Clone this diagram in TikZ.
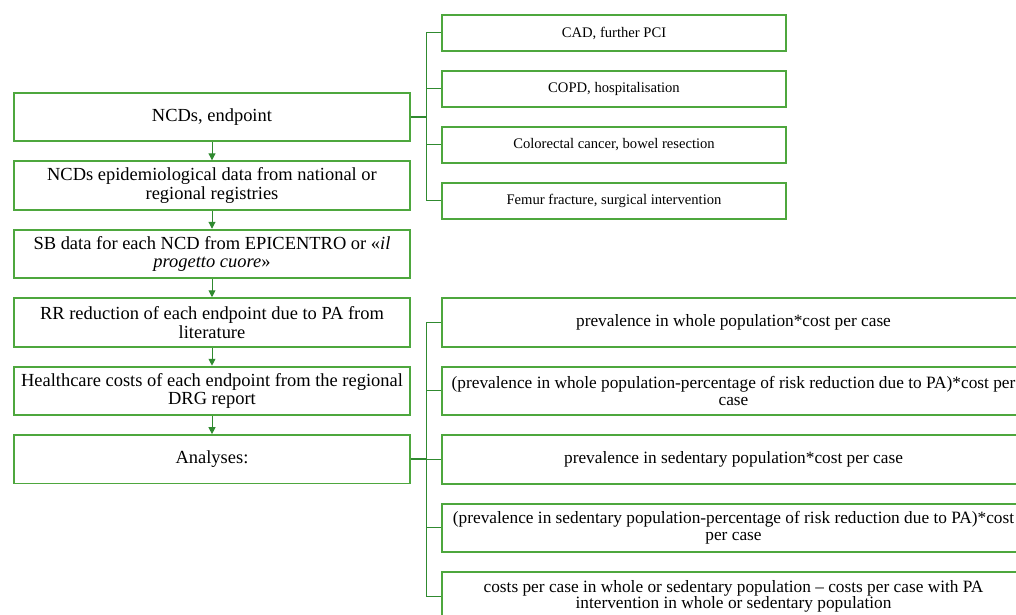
\documentclass[tikz,border=0pt]{standalone}
\usepackage{fontspec}
\setmainfont{Liberation Serif}
\usetikzlibrary{positioning}
\usetikzlibrary{arrows.meta}
\definecolor{boxgreen}{RGB}{78,167,62}
\definecolor{linkgreen}{RGB}{48,138,48}
\tikzset{stepnode/.style={rectangle,
                        draw=boxgreen,
                        line width=1.2pt,
                        text width=252pt,
                        inner xsep=2.7pt,
                        minimum height=31.5pt,
                        align=flush center,
                        font=\fontsize{12}{12}\selectfont
                        },
        endpointnode/.style={rectangle,
                        draw=boxgreen,
                        line width=1.2pt,
                        minimum width=223.6pt,
                        minimum height=23.4pt,
                        align=center,
                        font=\fontsize{9.5}{11}\selectfont
        },
        analysisnode/.style={rectangle,
                        draw=boxgreen,
                        line width=1.2pt,
                        text width=374pt,
                        inner xsep=2.5pt,
                        minimum height=31.5pt,
                        align=flush center,
                        font=\fontsize{11.25}{11}\selectfont
        },
        flowarrow/.style={-{Triangle[width=4.5pt,length=4.5pt]}, linkgreen, line width=0.65pt},
        branchline/.style={linkgreen, line width=0.65pt},
        forkline/.style={linkgreen, line width=1.3pt},
}

\begin{document}
\begin{tikzpicture}
    [x=0.65pt,y=-0.65pt,node distance=11.8pt]

    \useasboundingbox (0,0) rectangle (1016,615);
    \clip (0,0) rectangle (1016,615);

    % MAIN STEPS
    \node[stepnode] (endpoint) at (212,117) {NCDs, endpoint};

    \node[stepnode, below=of endpoint] (epidata) {NCDs epidemiological data from national or regional registries};

    \node[stepnode, below=of epidata] (sbdata) {SB data for each NCD from EPICENTRO or «\textit{il progetto cuore}»};

    \node[stepnode, below=of sbdata] (rrreduction) {RR reduction of each endpoint due to PA from literature};

    \node[stepnode, below=of rrreduction] (healthcost) {Healthcare costs of each endpoint from the regional DRG report};

    \node[stepnode, below=of healthcost] (analyses) {Analyses:};

    \draw[flowarrow] (endpoint) -- (epidata);
    \draw[flowarrow] (epidata) -- (sbdata);
    \draw[flowarrow] (sbdata) -- (rrreduction);
    \draw[flowarrow] (rrreduction) -- (healthcost);
    \draw[flowarrow] (healthcost) -- (analyses);


    % ENDPOINTS
    \node[endpointnode] (cad) at (614,33) {CAD, further PCI};

    \node[endpointnode, below=of cad] (copd) {COPD, hospitalisation};

    \node[endpointnode, below=of copd] (colorectal) {Colorectal cancer, bowel resection};

    \node[endpointnode, below=of colorectal] (femur) {Femur fracture, surgical intervention};

    \draw[forkline] (endpoint.east) -- ++(16,0) coordinate (endpointfork);
    \foreach \n in {cad,copd,colorectal,femur}
        \draw[branchline] (endpointfork) |- (\n.west);


    % ANALYSES
    \node[analysisnode] (wholecost) at (733.5,322.5) {prevalence in whole population*cost per case};

    \node[analysisnode, below=of wholecost] (wholereduced) {(prevalence in whole population-percentage of risk reduction due to PA)*cost per case};

    \node[analysisnode, below=of wholereduced] (sedentarycost) {prevalence in sedentary population*cost per case};

    \node[analysisnode, below=of sedentarycost] (sedentaryreduced) {(prevalence in sedentary population-percentage of risk reduction due to PA)*cost per case};

    \node[analysisnode, below=of sedentaryreduced] (casedifference) {costs per case in whole or sedentary population -- costs per case with PA\\ intervention in whole or sedentary population};

    \draw[forkline] (analyses.east) -- ++(16,0) coordinate (analysesfork);
    \foreach \n in {wholecost,wholereduced,sedentarycost,sedentaryreduced,casedifference}
        \draw[branchline] (analysesfork) |- (\n.west);

\end{tikzpicture}
\end{document}
